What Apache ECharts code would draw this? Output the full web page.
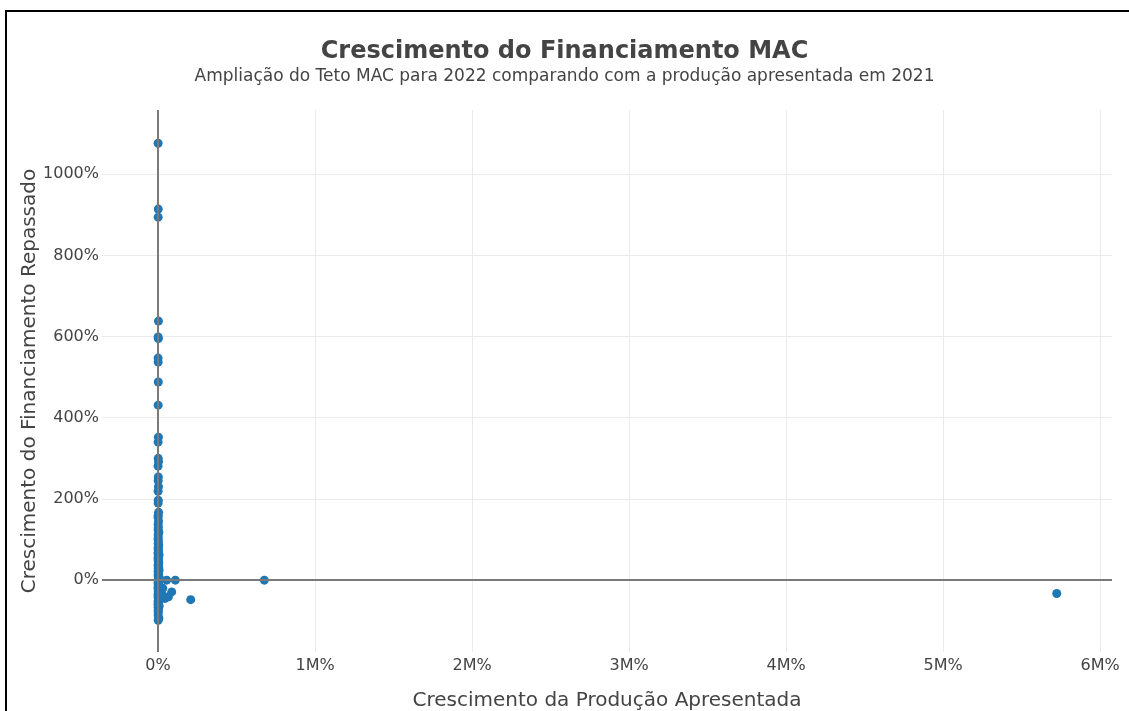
<!DOCTYPE html>
<html>
<head>
<meta charset="utf-8">
<title>Crescimento do Financiamento MAC</title>
<script src="https://cdn.jsdelivr.net/npm/echarts@6/dist/echarts.min.js"></script>
<style>
  html, body { margin: 0; padding: 0; background: #fff; }
  #chart { position: absolute; left: 0; top: 0; width: 1129px; height: 711px; }
  #frame {
    position: absolute; left: 5px; top: 10px; width: 1124px; height: 701px;
    border-left: 2px solid #000; border-top: 2px solid #000;
    box-sizing: border-box; pointer-events: none;
  }
</style>
</head>
<body>
<div id="chart"></div>
<div id="frame"></div>
<script>
// Crescimento da produção apresentada (%), eixo X
const prodGrowth = [
  300, 1200, 800, 2500, 600, 1800, 400, 900, 1500, 700,
  2200, 500, 1100, 3000, 200, 1600, 900, 2600, 400, 1300,
  700, 3500, 1000, 200, 2800, 600, 1900, 400, 5000, 800,
  1400, 300, 2400, 700, 4000, 1100, 500, 3200, 900, 200,
  6000, 1500, 300, 2100, 800, 4500, 1200, 600, 3800, 1000,
  7000, 400, 2700, 1300, 500, 8000, 1700, 300, 5500, 900,
  2000, 600, 9000, 1100, 400, 3300, 800, 6500, 200, 1600,
  4200, 700, 2300, 10000, 500, 3600, 1200, 300, 7500, 900,
  2900, 600, 1400, 400, 5200, 1000,
  // pontos afastados do eixo
  55000, 110000, 87000, 66000, 45000, 30000, 25000, 208000, 677000, 5724000
];

// Crescimento do financiamento repassado (%), eixo Y
const finGrowth = [
  1076, 914, 894, 638, 599, 595, 547, 537, 488, 431,
  352, 340, 300, 292, 281, 254, 245, 230, 219, 197,
  190, 167, 160, 155, 145, 137, 130, 124, 118, 112,
  106, 101, 96, 90, 86, 81, 76, 72, 69, 65,
  62, 58, 54, 50, 47, 43, 39, 35, 32, 28,
  25, 21, 17, 14, 10, 6, 2, 0, -2, -5,
  -8, -12, -15, -18, -20, -23, -27, -30, -34, -37,
  -40, -42, -45, -49, -52, -55, -57, -60, -64, -67,
  -71, -75, -79, -86, -94, -99,
  0, 0, -29, -41, -45, -20, -35, -48, 0, -33
];

const xRange = [-357000, 6076000];
const yRange = [-177, 1158];

const points = prodGrowth.map((x, i) => [x, finGrowth[i]]);

const chart = echarts.init(document.getElementById('chart'));

const labelColor = '#444';
const fontFamily = 'DejaVu Sans';

chart.setOption({
  animation: false,
  textStyle: { fontFamily: fontFamily },
  title: [
    {
      text: 'Crescimento do Financiamento MAC',
      left: 'center',
      top: 40,
      padding: [0, 0, 0, 7],
      textStyle: { fontFamily: fontFamily, fontSize: 24, fontWeight: 'bold', color: labelColor }
    },
    {
      text: 'Ampliação do Teto MAC para 2022 comparando com a produção apresentada em 2021',
      left: 'center',
      top: 68,
      padding: [0, 0, 0, 25],
      textStyle: { fontFamily: fontFamily, fontSize: 17, fontWeight: 'normal', color: labelColor }
    }
  ],
  grid: { left: 102, right: 17, top: 110, bottom: 59, outerBoundsMode: 'none' },
  xAxis: {
    type: 'value',
    min: xRange[0],
    max: xRange[1],
    splitNumber: 6,
    name: 'Crescimento da Produção Apresentada',
    nameLocation: 'middle',
    nameGap: 39,
    nameMoveOverlap: false,
    nameTextStyle: { fontFamily: fontFamily, fontSize: 20, color: labelColor },
    axisLine: { show: false, onZero: false },
    axisTick: { show: false },
    axisLabel: {
      color: labelColor, fontSize: 16, margin: 6,
      showMinLabel: false, showMaxLabel: false,
      formatter: v => v === 0 ? '0%' : (v / 1e6) + 'M%'
    },
    splitLine: { show: true, showMinLine: false, showMaxLine: false, lineStyle: { color: '#ebebeb', width: 1 } }
  },
  yAxis: {
    type: 'value',
    min: yRange[0],
    max: yRange[1],
    splitNumber: 6,
    name: 'Crescimento do Financiamento Repassado',
    nameLocation: 'middle',
    nameGap: 62,
    nameMoveOverlap: false,
    nameTextStyle: { fontFamily: fontFamily, fontSize: 20, color: labelColor },
    axisLine: { show: false, onZero: false },
    axisTick: { show: false },
    axisLabel: {
      color: labelColor, fontSize: 16, margin: 3,
      showMinLabel: false, showMaxLabel: false,
      formatter: v => v + '%'
    },
    splitLine: { show: true, showMinLine: false, showMaxLine: false, lineStyle: { color: '#ebebeb', width: 1 } }
  },
  series: [
    {
      // linhas do zero (atrás dos pontos)
      type: 'line',
      data: [],
      z: 1,
      markLine: {
        silent: true,
        symbol: ['none', 'none'],
        label: { show: false },
        lineStyle: { color: '#7a7a7a', width: 2, type: 'solid' },
        data: [{ yAxis: 0 }, { xAxis: 0 }]
      }
    },
    {
      type: 'scatter',
      z: 3,
      symbolSize: 9,
      itemStyle: { color: '#1f77b4', opacity: 1 },
      data: points
    }
  ]
});
</script>
</body>
</html>
